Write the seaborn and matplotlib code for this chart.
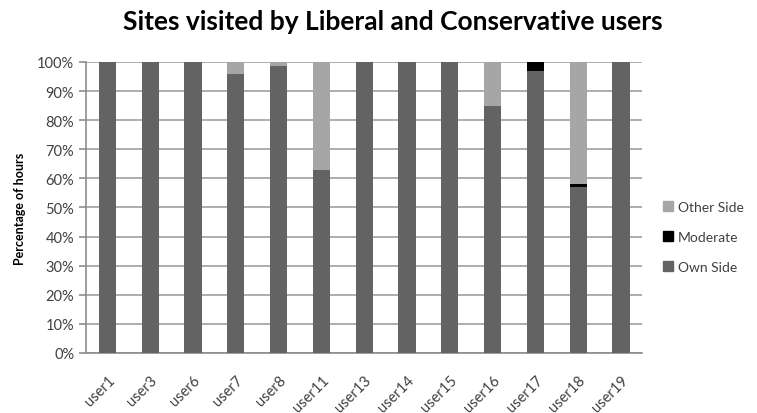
import matplotlib
matplotlib.use("Agg")
import matplotlib.pyplot as plt
import seaborn as sns
import numpy as np
import pandas as pd
from matplotlib.patches import Patch
from matplotlib.ticker import FuncFormatter

users = ["user1", "user3", "user6", "user7", "user8", "user11", "user13",
         "user14", "user15", "user16", "user17", "user18", "user19"]
own_side = [100, 100, 100, 96, 98.5, 63, 100, 100, 100, 85, 97, 57, 100]
moderate = [0, 0, 0, 0, 0, 0, 0, 0, 0, 0, 3, 1.2, 0]
other_side = [0, 0, 0, 4, 1.5, 37, 0, 0, 0, 15, 0, 41.8, 0]

c_own = "#636363"
c_mod = "#000000"
c_other = "#a6a6a6"

sns.set_theme(style="white")
plt.rcParams["font.family"] = ["Lato", "DejaVu Sans"]

df = pd.DataFrame({"user": users, "own": own_side, "mod": moderate, "other": other_side})
df["own_mod"] = df["own"] + df["mod"]
df["total"] = df["own_mod"] + df["other"]

fig = plt.figure(figsize=(7.57, 4.14), dpi=100)
ax = fig.add_axes([0.1136, 0.145, 0.735, 0.703])

# stacked bars: draw cumulative heights from tallest to shortest
sns.barplot(data=df, x="user", y="total", color=c_other, width=0.4, saturation=1, ax=ax, zorder=3)
sns.barplot(data=df, x="user", y="own_mod", color=c_mod, width=0.4, saturation=1, ax=ax, zorder=3)
sns.barplot(data=df, x="user", y="own", color=c_own, width=0.4, saturation=1, ax=ax, zorder=3)
for p in ax.patches:
    p.set_linewidth(0)

ax.set_xlim(-0.5, len(users) - 0.5)
ax.set_ylim(0, 100)
ax.set_yticks(np.arange(0, 101, 10))
ax.yaxis.set_major_formatter(FuncFormatter(lambda v, _: f"{int(v)}%"))
ax.grid(axis="y", color="#a0a0a0", linewidth=1.2, zorder=0)
ax.set_axisbelow(True)

for s in ["top", "right"]:
    ax.spines[s].set_visible(False)
for s in ["left", "bottom"]:
    ax.spines[s].set_color("#8c8c8c")
    ax.spines[s].set_linewidth(1.2)

# category tick marks sit between bars
ax.set_xticks(np.arange(len(users)))
ax.set_xticklabels(users, rotation=45, ha="right", rotation_mode="anchor",
                   fontsize=10.5, color="#404040")
ax.tick_params(axis="x", length=0, pad=14)
ax.set_xticks(np.arange(-0.5, len(users)), minor=True)
ax.tick_params(axis="x", which="minor", length=5, width=1.2, color="#8c8c8c", direction="out")
ax.tick_params(axis="y", length=5, width=1.2, color="#8c8c8c", direction="out",
               labelsize=10.5, labelcolor="#404040", left=True)

ax.set_xlabel("")
ax.set_ylabel("Percentage of hours", fontsize=9, fontweight="bold", color="#000000", labelpad=8)

fig.suptitle("Sites visited by Liberal and Conservative users", x=0.519, y=0.975,
             fontsize=19, fontweight="bold", color="#000000")

handles = [Patch(color=c_other, label="Other Side"),
           Patch(color=c_mod, label="Moderate"),
           Patch(color=c_own, label="Own Side")]
fig.legend(handles=handles, loc="center left", bbox_to_anchor=(0.869, 0.426), frameon=False,
           fontsize=10, handlelength=0.7, handleheight=0.7, handletextpad=0.35,
           labelspacing=1.3, labelcolor="#404040", borderaxespad=0)

fig.savefig("out.png", dpi=100)
